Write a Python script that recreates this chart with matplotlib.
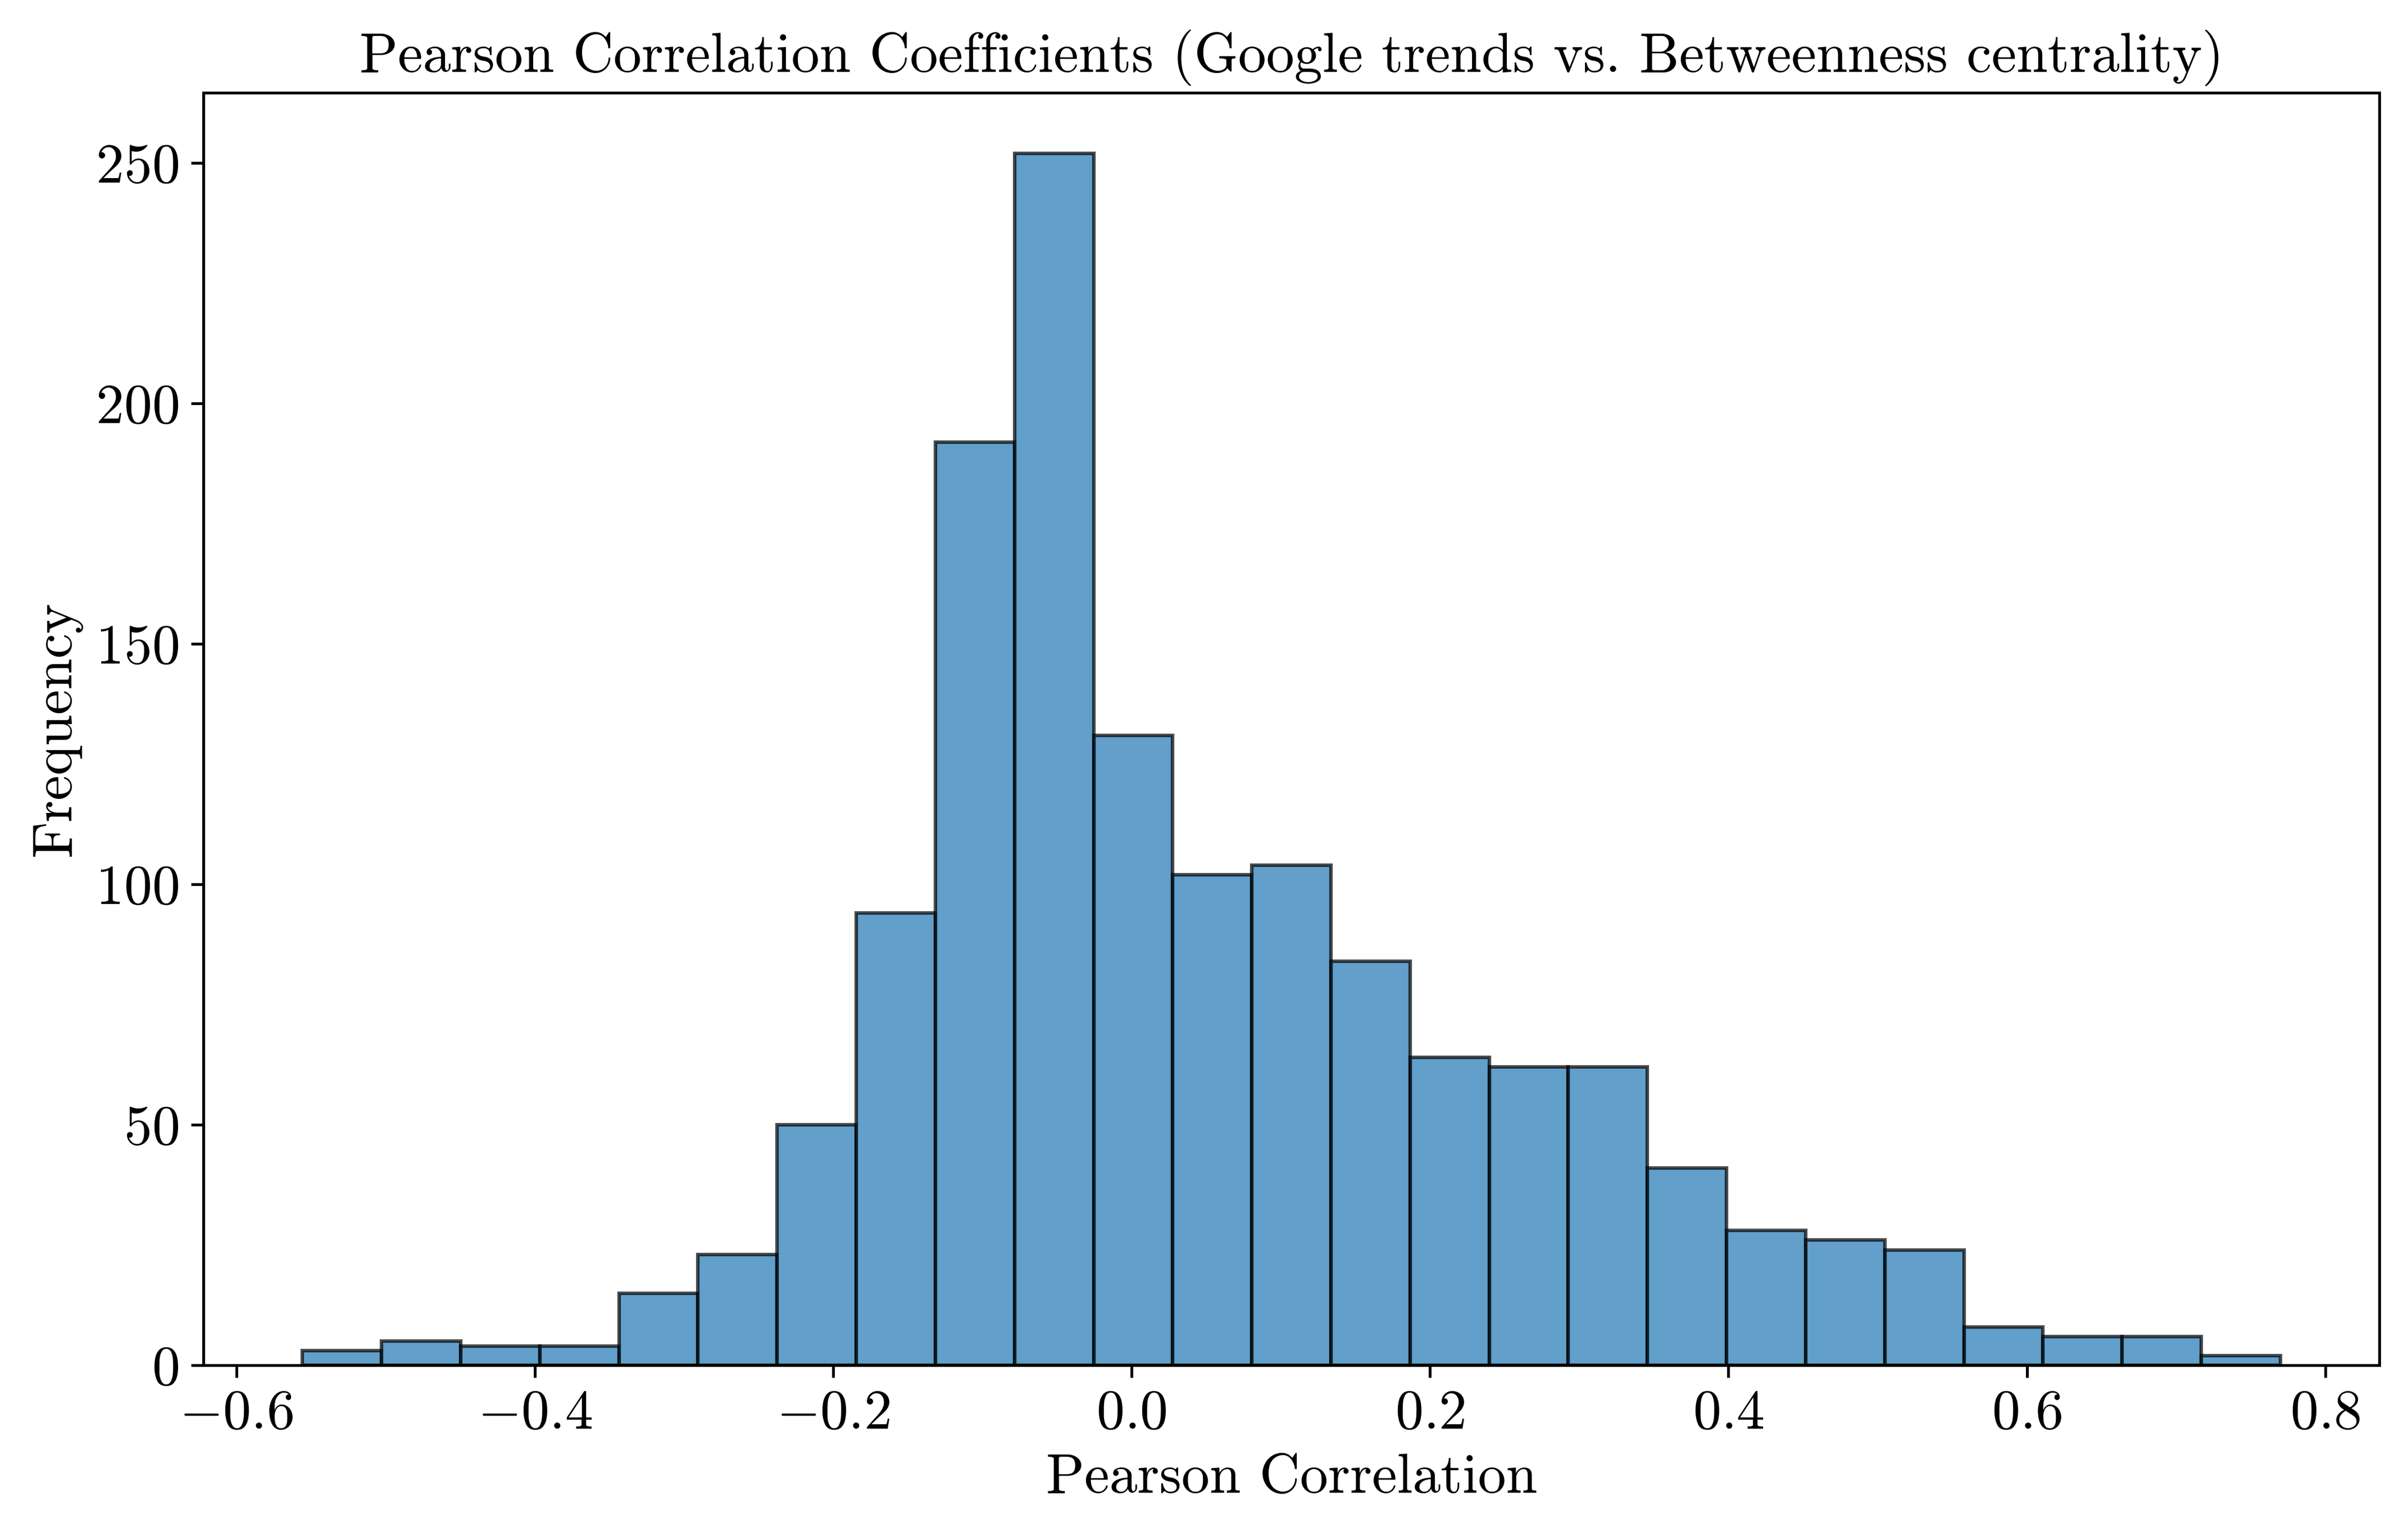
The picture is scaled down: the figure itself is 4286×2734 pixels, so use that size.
import matplotlib

matplotlib.use("Agg")
import matplotlib.pyplot as plt
import numpy as np

# histogram counts, 25 equal bins
bin_start = -0.5558
bin_end = 0.7700
counts = [3, 5, 4, 4, 15, 23, 50, 94, 192, 252, 131, 102, 104, 84, 64,
          62, 62, 41, 28, 26, 24, 8, 6, 6, 2]

plt.rcParams["font.family"] = "serif"
plt.rcParams["font.serif"] = ["cmr10"]
plt.rcParams["mathtext.fontset"] = "cm"
plt.rcParams["axes.formatter.use_mathtext"] = True
plt.rcParams["axes.unicode_minus"] = True
plt.rcParams["font.size"] = 16

edges = np.linspace(bin_start, bin_end, len(counts) + 1)
centers = (edges[:-1] + edges[1:]) / 2

figure, axis = plt.subplots(figsize=(4286 / 450, 2734 / 450))
figure.subplots_adjust(left=0.0845, right=0.9881, bottom=0.1112, top=0.9396)
axis.hist(centers, bins=edges, weights=counts, color="#1f77b4", alpha=0.7,
          edgecolor="black", linewidth=1.0)
axis.set_title("Pearson Correlation Coefficients (Google trends vs. Betweenness centrality)",
               fontsize=16)
axis.set_xlabel("Pearson Correlation", fontsize=16)
axis.set_ylabel("Frequency", fontsize=16)
axis.tick_params(labelsize=16)
figure.savefig("out.png", dpi=450)
plt.close(figure)
